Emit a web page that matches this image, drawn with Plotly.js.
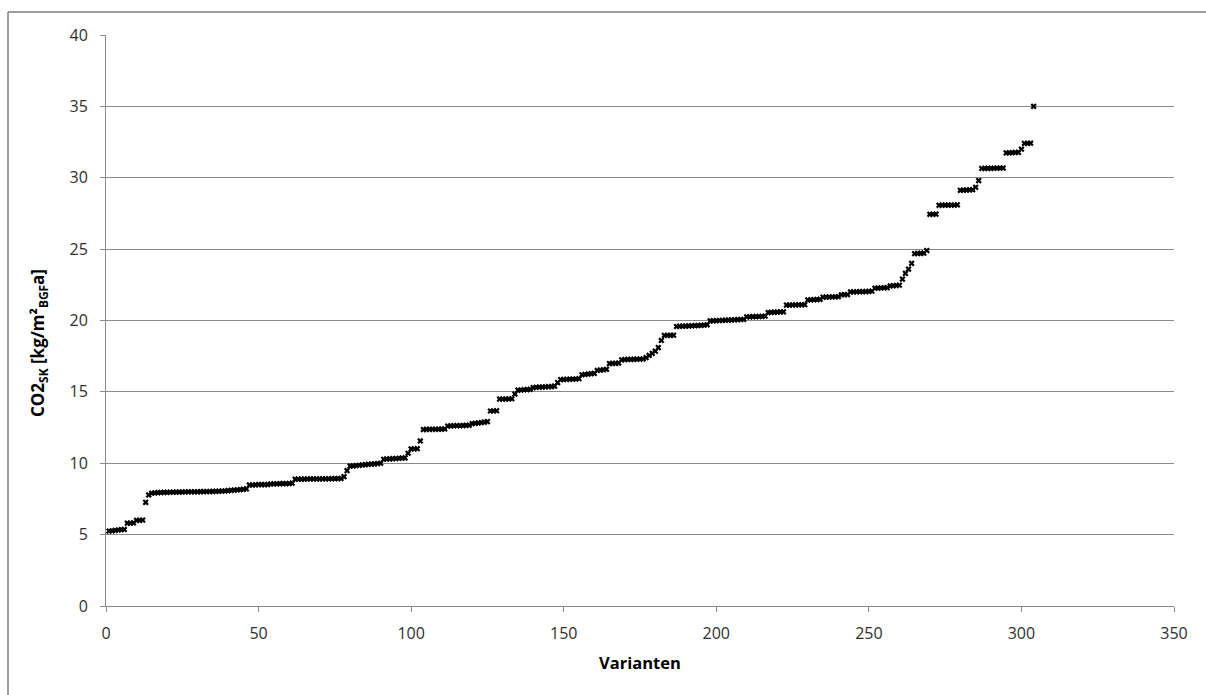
<!DOCTYPE html>
<html>
<head>
<meta charset="utf-8">
<script src="https://cdn.plot.ly/plotly-3.0.1.min.js"></script>
<style>html,body{margin:0;padding:0;background:#fff;}#chart{width:1206px;height:695px;}</style>
</head>
<body>
<div id="chart"></div>
<script>
// Varianten index 1..304, CO2_SK values (sorted ascending)
const co2Values = [
  5.25, 5.27, 5.30, 5.32, 5.35, 5.36,
  5.80, 5.80, 5.82,
  6.00, 6.00, 6.02,
  7.26, 7.78,
  7.90, 7.92, 7.94, 7.95, 7.96, 7.96, 7.97, 7.97, 7.98, 7.98,
  7.99, 7.99, 8.00, 8.00, 8.00, 8.00, 8.01, 8.01, 8.02, 8.02,
  8.03, 8.03, 8.04, 8.05, 8.06, 8.08,
  8.10, 8.12, 8.14, 8.15, 8.17, 8.20,
  8.48, 8.48, 8.49, 8.50, 8.50, 8.50, 8.51,
  8.55, 8.55, 8.56, 8.57, 8.57, 8.58, 8.58, 8.60,
  8.88, 8.88, 8.89, 8.89, 8.90, 8.90, 8.90, 8.90, 8.90, 8.91, 8.91, 8.91, 8.92, 8.92, 8.93, 8.93,
  9.06, 9.48,
  9.80, 9.82, 9.84, 9.86, 9.88, 9.90, 9.92, 9.94, 9.96, 9.98, 10.00,
  10.28, 10.30, 10.30, 10.32, 10.33, 10.35, 10.36, 10.38,
  10.70,
  11.00, 11.00, 11.02,
  11.56,
  12.36, 12.37, 12.38, 12.38, 12.38, 12.39, 12.39, 12.40,
  12.60, 12.62, 12.63, 12.63, 12.64, 12.64, 12.65, 12.66,
  12.78, 12.80, 12.82, 12.85, 12.88, 12.92,
  13.66, 13.66, 13.68,
  14.50, 14.50, 14.50, 14.51, 14.52,
  14.85,
  15.12, 15.13, 15.15, 15.16, 15.18,
  15.30, 15.32, 15.33, 15.34, 15.35, 15.36, 15.37, 15.40,
  15.65,
  15.86, 15.87, 15.88, 15.88, 15.90, 15.90, 15.92,
  16.20, 16.22, 16.25, 16.28, 16.30,
  16.50, 16.52, 16.55, 16.58,
  16.98, 17.00, 17.00, 17.02,
  17.25, 17.26, 17.27, 17.28, 17.28, 17.29, 17.30, 17.30,
  17.40, 17.55, 17.70, 17.85, 18.10, 18.60,
  18.95, 18.96, 18.96, 18.97,
  19.58, 19.60, 19.60, 19.61, 19.62, 19.63, 19.64, 19.65, 19.66, 19.68, 19.70,
  19.97, 19.98, 19.99, 20.00, 20.01, 20.02, 20.03, 20.04, 20.05, 20.06, 20.07, 20.08,
  20.25, 20.26, 20.27, 20.27, 20.28, 20.29, 20.30,
  20.56, 20.57, 20.58, 20.59, 20.60, 20.60,
  21.08, 21.08, 21.09, 21.09, 21.10, 21.10, 21.11,
  21.44, 21.45, 21.46, 21.47, 21.48,
  21.63, 21.64, 21.65, 21.65, 21.66, 21.67,
  21.80, 21.81, 21.82,
  22.00, 22.00, 22.01, 22.02, 22.02, 22.03, 22.04, 22.05,
  22.26, 22.27, 22.28, 22.29, 22.30,
  22.42, 22.44, 22.45, 22.47,
  22.90, 23.30, 23.60, 24.00,
  24.68, 24.70, 24.70, 24.72,
  24.90,
  27.44, 27.44, 27.45,
  28.07, 28.08, 28.08, 28.08, 28.09, 28.09, 28.10,
  29.12, 29.13, 29.14, 29.15, 29.16,
  29.33, 29.80,
  30.65, 30.66, 30.66, 30.66, 30.67, 30.67, 30.68, 30.68,
  31.74, 31.75, 31.76, 31.77, 31.78,
  32.00,
  32.40, 32.41, 32.42,
  35.00
];
const varianten = co2Values.map((v, i) => i + 1);

const xTicks = [0, 50, 100, 150, 200, 250, 300, 350];
const yTicks = [0, 5, 10, 15, 20, 25, 30, 35, 40];

const fontFam = "'Open Sans', 'Noto Sans', 'DejaVu Sans', sans-serif";
const gridCol = '#8a8a8a';

const trace = {
  type: 'scatter',
  mode: 'markers',
  x: varianten,
  y: co2Values,
  marker: { symbol: 'x', size: 5.5, color: '#000000' },
  hoverinfo: 'x+y'
};

const layout = {
  width: 1206,
  height: 695,
  margin: { l: 106, r: 32, t: 35, b: 89 },
  paper_bgcolor: '#ffffff',
  plot_bgcolor: '#ffffff',
  showlegend: false,
  font: { family: fontFam, size: 13, color: '#404040' },
  xaxis: {
    range: [0, 350],
    tickvals: xTicks,
    ticktext: xTicks.map(String),
    showgrid: false,
    zeroline: false,
    showline: true,
    linecolor: gridCol,
    linewidth: 1,
    ticks: 'outside',
    ticklen: 5,
    tickcolor: gridCol,
    ticklabelstandoff: 8,
    tickfont: { family: fontFam, size: 16, color: '#303030' },
    title: { text: '<b>Varianten</b>', font: { family: fontFam, size: 16.5, color: '#000' }, standoff: 14 }
  },
  yaxis: {
    range: [0, 40],
    tickvals: yTicks,
    ticktext: yTicks.map(String),
    showgrid: true,
    gridcolor: gridCol,
    gridwidth: 1,
    zeroline: false,
    showline: true,
    linecolor: gridCol,
    linewidth: 1,
    ticks: 'outside',
    ticklen: 5,
    tickcolor: gridCol,
    ticklabelstandoff: 9,
    tickfont: { family: fontFam, size: 16, color: '#303030' }
  },
  annotations: [
    {
      xref: 'paper', yref: 'paper',
      x: (38 - 106) / 1068, y: (606 - 343) / 571,
      xanchor: 'center', yanchor: 'middle',
      textangle: -90, showarrow: false,
      text: '<b>CO2<sub>SK</sub> [kg/m²<sub>BGF</sub>a]</b>',
      font: { family: fontFam, size: 17, color: '#000' }
    }
  ],
  shapes: [
    { type: 'line', xref: 'paper', yref: 'paper', x0: -98/1068, x1: -98/1068, y0: 1 + 23/571, y1: -1, line: { color: '#7f7f7f', width: 1.5 } },
    { type: 'line', xref: 'paper', yref: 'paper', x0: -98/1068, x1: 2, y0: 1 + 23/571, y1: 1 + 23/571, line: { color: '#7f7f7f', width: 1.5 } }
  ]
};

Plotly.newPlot('chart', [trace], layout, { displayModeBar: false, staticPlot: true });
</script>
</body>
</html>
